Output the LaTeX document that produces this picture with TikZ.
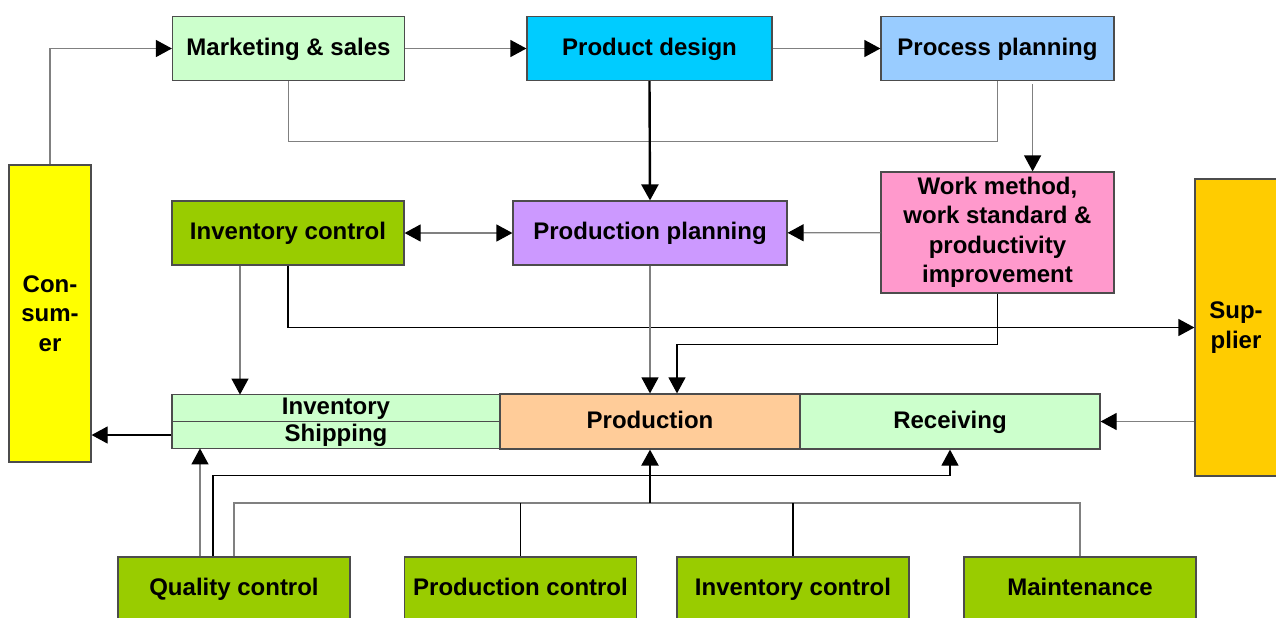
\documentclass[tikz,border=0pt]{standalone}
\usepackage{fontspec}
\setmainfont{Liberation Sans}
\usetikzlibrary{arrows.meta,calc,positioning}
\definecolor{mintgreen}{HTML}{CCFFCC}
\definecolor{leafgreen}{HTML}{99CC00}
\definecolor{designblue}{HTML}{00CCFF}
\definecolor{planblue}{HTML}{99CCFF}
\definecolor{lilac}{HTML}{CC99FF}
\definecolor{rosepink}{HTML}{FF99CC}
\definecolor{lemon}{HTML}{FFFF00}
\definecolor{amber}{HTML}{FFCC00}
\definecolor{peach}{HTML}{FFCC99}

\begin{document}
\begin{tikzpicture}[x=0.5pt,y=-0.5pt,>={Triangle[length=8pt,width=8.5pt,color=black]},
				font=\fontsize{12}{14.75}\selectfont\bfseries,
				box/.style={rectangle,draw=black!70,line width=0.6pt,align=center,
					inner sep=1pt,minimum width=116pt,minimum height=32pt},
				one/.style={text height=8.6pt,text depth=2pt},
				wire/.style={draw=black!50,line width=0.6pt},
				dark/.style={draw=black,line width=0.6pt},
				trunk/.style={draw=black,line width=1.2pt}]
				\useasboundingbox (0,0) rectangle (1276,617);
				\clip (0,0) rectangle (1276,617);

				% top row
				\node[box,one,fill=mintgreen] (mkt) at (288.5,48.5) {Marketing \& sales};
				\node[box,one,fill=designblue,minimum width=122.5pt] (pd) at (649.5,48.5) {Product design};
				\node[box,one,fill=planblue,minimum width=116.5pt] (pp) at (997.5,48.5) {Process planning};

				% middle row
				\node[box,fill=lemon,minimum width=41pt,minimum height=148.5pt] (cons) at (50,313.5) {Con-\\sum-\\er};
				\node[box,one,fill=leafgreen] (invc) at (288,233) {Inventory control};
				\node[box,one,fill=lilac,minimum width=137pt] (prp) at (650,233) {Production planning};
				\node[box,fill=rosepink,minimum width=116.5pt,minimum height=60.5pt] (work) at (997.5,232.5)
					{Work method,\\work standard \&\\productivity\\improvement};
				\node[box,fill=amber,minimum width=41pt,minimum height=148.5pt] (sup) at (1236,327.5) {Sup-\\plier};

				% shop floor
				\node[box,one,fill=mintgreen,minimum width=164pt,minimum height=13.75pt,inner sep=0pt] (inv) at (336,408) {Inventory};
				\node[box,one,fill=mintgreen,minimum width=164pt,minimum height=13.75pt,inner sep=0pt] (ship) at (336,435) {Shipping};
				\node[box,one,fill=peach,minimum width=150pt,minimum height=27.5pt] (prod) at (650,421.5) {Production};
				\node[box,one,fill=mintgreen,minimum width=150pt,minimum height=27.5pt] (recv) at (950,421.5) {Receiving};

				% support functions
				\node[box,one,fill=leafgreen] (qc) at (234,589) {Quality control};
				\node[box,one,fill=leafgreen] (pc) at (520.5,589) {Production control};
				\node[box,one,fill=leafgreen] (ic) at (793,589) {Inventory control};
				\node[box,one,fill=leafgreen] (mnt) at (1080,589) {Maintenance};
				\coordinate (hub) at (650,503);

				\draw[wire,->] (cons.north) |- (mkt.west);
				\draw[wire,->] (mkt) -- (pd);
				\draw[wire,->] (pd) -- (pp);
				\draw[wire] (mkt.south) -- ++(0,60) -| (pp.south);
				\draw[trunk,->] (pd.south) -- (prp.north);
				\draw[wire,->] ([xshift=-41pt,yshift=-1.5pt]pp.south east) -- ([xshift=-41pt]work.north east);
				\draw[wire,<->] (invc) -- (prp);
				\draw[wire,->] (work) -- (prp);
				\draw[wire,->] ([xshift=-24pt]invc.south) -- ++(0,129);
				\draw[dark,->] (invc.south) |- (sup.west);
				\draw[wire,->] (prp) -- (prod);
				\draw[dark,->] (work.south) -- ++(0,51) -| ([xshift=13.5pt]prod.north);
				\draw[wire,->] (recv.east -| sup.west) -- (recv.east);
				\draw[dark,->] (ship.west) -- (ship.west -| cons.east);

				\draw[wire,->] ([xshift=-17pt]qc.north) -- ++(0,-108);
				\draw[dark,->] ([xshift=-10.5pt]qc.north) -- ++(0,-81) -| (recv.south);
				\draw[wire] (qc.north) |- (hub) -| (mnt.north);
				\draw[dark] (pc.north) -- (pc.north |- hub);
				\draw[dark] (ic.north) -- (ic.north |- hub);
				\draw[trunk,->] (hub) -- (prod.south);
\end{tikzpicture}
\end{document}
